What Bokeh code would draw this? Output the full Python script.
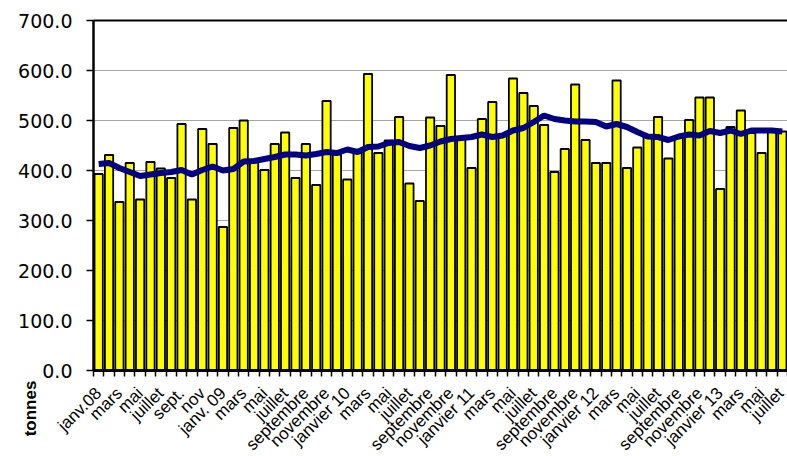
import math
from bokeh.plotting import figure
from bokeh.models import Range1d, FixedTicker, PrintfTickFormatter, Label
from bokeh.embed import file_html
from bokeh.resources import INLINE

# tonnes per month, janv. 2008 -> juillet 2013
tonnes = [393, 431, 337, 415, 342, 417, 404, 385, 493, 342, 483, 453,
          287, 485, 500, 420, 401, 453, 476, 385, 453, 371, 539, 432,
          382, 435, 593, 435, 460, 507, 374, 339, 506, 489, 591, 465,
          405, 503, 537, 470, 584, 555, 529, 491, 397, 443, 572, 461,
          415, 415, 580, 405, 446, 470, 507, 424, 465, 501, 546, 546,
          363, 487, 520, 475, 435, 478, 478]

# smoothed trend line
tendance = [413, 415, 405, 397, 389, 392, 395, 397, 401, 392, 401, 408,
            400, 403, 418, 419, 423, 427, 432, 432, 430, 433, 437, 435,
            442, 437, 447, 448, 455, 457, 449, 445, 450, 458, 463, 465,
            467, 472, 467, 470, 480, 485, 497, 510, 503, 500, 498, 498,
            497, 488, 493, 487, 477, 468, 467, 461, 468, 472, 470, 479,
            475, 480, 473, 480, 480, 480, 478]

# tick labels, every second month
labels = ["janv.08", "mars", "mai", "juillet", "sept.", "nov",
          "janv. 09", "mars", "mai", "juillet", "septembre", "novembre",
          "janvier 10", "mars", "mai", "juillet", "septembre", "novembre",
          "janvier 11", "mars", "mai", "juillet", "septembre", "novembre",
          "janvier 12", "mars", "mai", "juillet", "septembre", "novembre",
          "janvier 13", "mars", "mai", "juillet"]

y_ticks = [0, 100, 200, 300, 400, 500, 600, 700]

n = len(tonnes)
xs = list(range(n))
label_pos = list(range(0, n, 2))

# layout geometry (pixels)
W, H = 787, 456
PLOT_LEFT, PLOT_TOP, PLOT_BOTTOM = 93, 20, 370
slot = (W - PLOT_LEFT) / n
ppu = (PLOT_BOTTOM - PLOT_TOP) / 700.0       # pixels per tonne
x0 = -0.5 - PLOT_LEFT / slot
y0 = -(H - PLOT_BOTTOM) / ppu
y1 = 700 + PLOT_TOP / ppu

p = figure(width=W, height=H, output_backend="svg", toolbar_location=None,
           x_range=Range1d(x0, n - 0.5), y_range=Range1d(y0, y1),
           min_border_left=0, min_border_right=0, min_border_top=0,
           min_border_bottom=0)
p.outline_line_color = None
p.background_fill_color = "white"
p.border_fill_color = "white"
p.xgrid.visible = False
p.ygrid.visible = False

# horizontal gridlines (grey) and top border (black)
grid_vals = y_ticks[1:-1]
p.segment(x0=[-0.5] * len(grid_vals), x1=[n - 0.5] * len(grid_vals),
          y0=grid_vals, y1=grid_vals, line_color="#A6A6A6", line_width=1)
p.segment(x0=[-0.5], x1=[n - 0.5], y0=[y_ticks[-1]], y1=[y_ticks[-1]],
          line_color="black", line_width=2)

p.vbar(x=xs, top=tonnes, width=0.8, fill_color="#FFFF00",
       line_color="black", line_width=1.8)
p.line(xs, tendance, line_color="#000080", line_width=6)

ya = p.yaxis[0]
ya.fixed_location = -0.5
ya.bounds = (0, 700)
ya.ticker = FixedTicker(ticks=y_ticks)
ya.formatter = PrintfTickFormatter(format="%.1f")
ya.axis_line_width = 2.5
ya.axis_line_color = "black"
ya.major_tick_out = 7
ya.major_tick_in = 0
ya.major_tick_line_width = 1.5
ya.minor_tick_line_color = None
ya.major_label_text_font = "DejaVu Sans"
ya.major_label_text_font_size = "19px"
ya.major_label_text_color = "black"
ya.major_label_standoff = 14

xa = p.xaxis[0]
xa.fixed_location = 0
xa.bounds = (-0.5, n - 0.5)
xa.ticker = FixedTicker(ticks=label_pos,
                        minor_ticks=[i - 0.5 for i in range(n + 1)])
xa.major_label_overrides = {pos: lab for pos, lab in zip(label_pos, labels)}
xa.axis_line_width = 3
xa.axis_line_color = "black"
xa.major_tick_out = 0
xa.major_tick_in = 0
xa.minor_tick_out = 6
xa.minor_tick_in = 0
xa.minor_tick_line_width = 1.5
xa.minor_tick_line_color = "black"
xa.major_label_orientation = math.pi / 4
xa.major_label_text_font = "Liberation Sans"
xa.major_label_text_font_size = "17px"
xa.major_label_text_color = "black"
xa.major_label_standoff = 14

# y axis title, below the plot area on the left
p.add_layout(Label(x=x0 + 30 / slot, y=-(408 - PLOT_BOTTOM) / ppu,
                   text="tonnes", angle=math.pi / 2,
                   text_font="Liberation Sans", text_font_style="bold",
                   text_font_size="17px", text_align="center",
                   text_baseline="middle", text_color="black"))

open("out.html", "w").write(file_html(p, INLINE))
